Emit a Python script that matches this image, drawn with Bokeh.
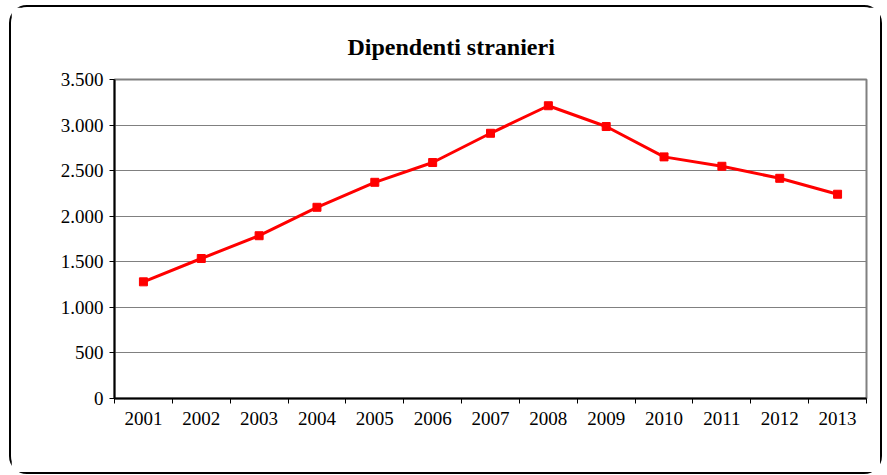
from bokeh.plotting import figure
from bokeh.models import FixedTicker, Range1d
from bokeh.embed import file_html
from bokeh.resources import INLINE

title_text = "Dipendenti stranieri"
years = [2001, 2002, 2003, 2004, 2005, 2006, 2007, 2008, 2009, 2010, 2011, 2012, 2013]
values = [1280, 1536, 1786, 2098, 2372, 2589, 2910, 3212, 2984, 2651, 2548, 2416, 2241]
y_ticks = [0, 500, 1000, 1500, 2000, 2500, 3000, 3500]
y_tick_labels = ["0", "500", "1.000", "1.500", "2.000", "2.500", "3.000", "3.500"]

FONT = "Liberation Serif"

p = figure(width=873, height=469, output_backend="svg", toolbar_location=None,
           x_range=Range1d(years[0] - 0.5, years[-1] + 0.5),
           y_range=Range1d(y_ticks[0], y_ticks[-1]),
           min_border_left=103, min_border_right=18, min_border_top=72, min_border_bottom=78,
           background_fill_color="white", border_fill_color="white")
p.styles = {"border": "2px solid black", "border-radius": "18px",
            "margin-left": "9px", "margin-top": "5px"}

p.title.text = title_text
p.title.align = "left"
p.title.offset = 233
p.title.text_font = FONT
p.title.text_font_size = "24px"
p.title.text_font_style = "bold"
p.title.text_color = "black"
p.title.standoff = 39

p.outline_line_color = "#808080"
p.outline_line_width = 2

p.xgrid.grid_line_color = None
p.ygrid.grid_line_color = "#808080"
p.ygrid.grid_line_width = 1

boundaries = [y - 0.5 for y in years] + [years[-1] + 0.5]
p.xaxis.ticker = FixedTicker(ticks=years, minor_ticks=boundaries)
p.xaxis.major_label_overrides = {y: str(y) for y in years}
p.xaxis.major_tick_out = 0
p.xaxis.major_tick_in = 0
p.xaxis.minor_tick_out = 5
p.xaxis.minor_tick_in = 0
p.xaxis.minor_tick_line_color = "black"
p.xaxis.axis_line_color = "black"
p.xaxis.axis_line_width = 2
p.xaxis.major_label_standoff = 8

p.yaxis.ticker = FixedTicker(ticks=y_ticks, minor_ticks=[])
p.yaxis.major_label_overrides = {t: l for t, l in zip(y_ticks, y_tick_labels)}
p.yaxis.major_tick_out = 5
p.yaxis.major_tick_in = 0
p.yaxis.major_tick_line_color = "black"
p.yaxis.axis_line_color = "black"
p.yaxis.axis_line_width = 2
p.yaxis.major_label_standoff = 6

for ax in (p.xaxis, p.yaxis):
    ax.major_label_text_font = FONT
    ax.major_label_text_font_size = "19px"
    ax.major_label_text_color = "black"

p.line(years, values, line_color="red", line_width=3)
p.scatter(years, values, marker="square", size=8, fill_color="red", line_color="red")

open("out.html", "w").write(file_html(p, INLINE))
